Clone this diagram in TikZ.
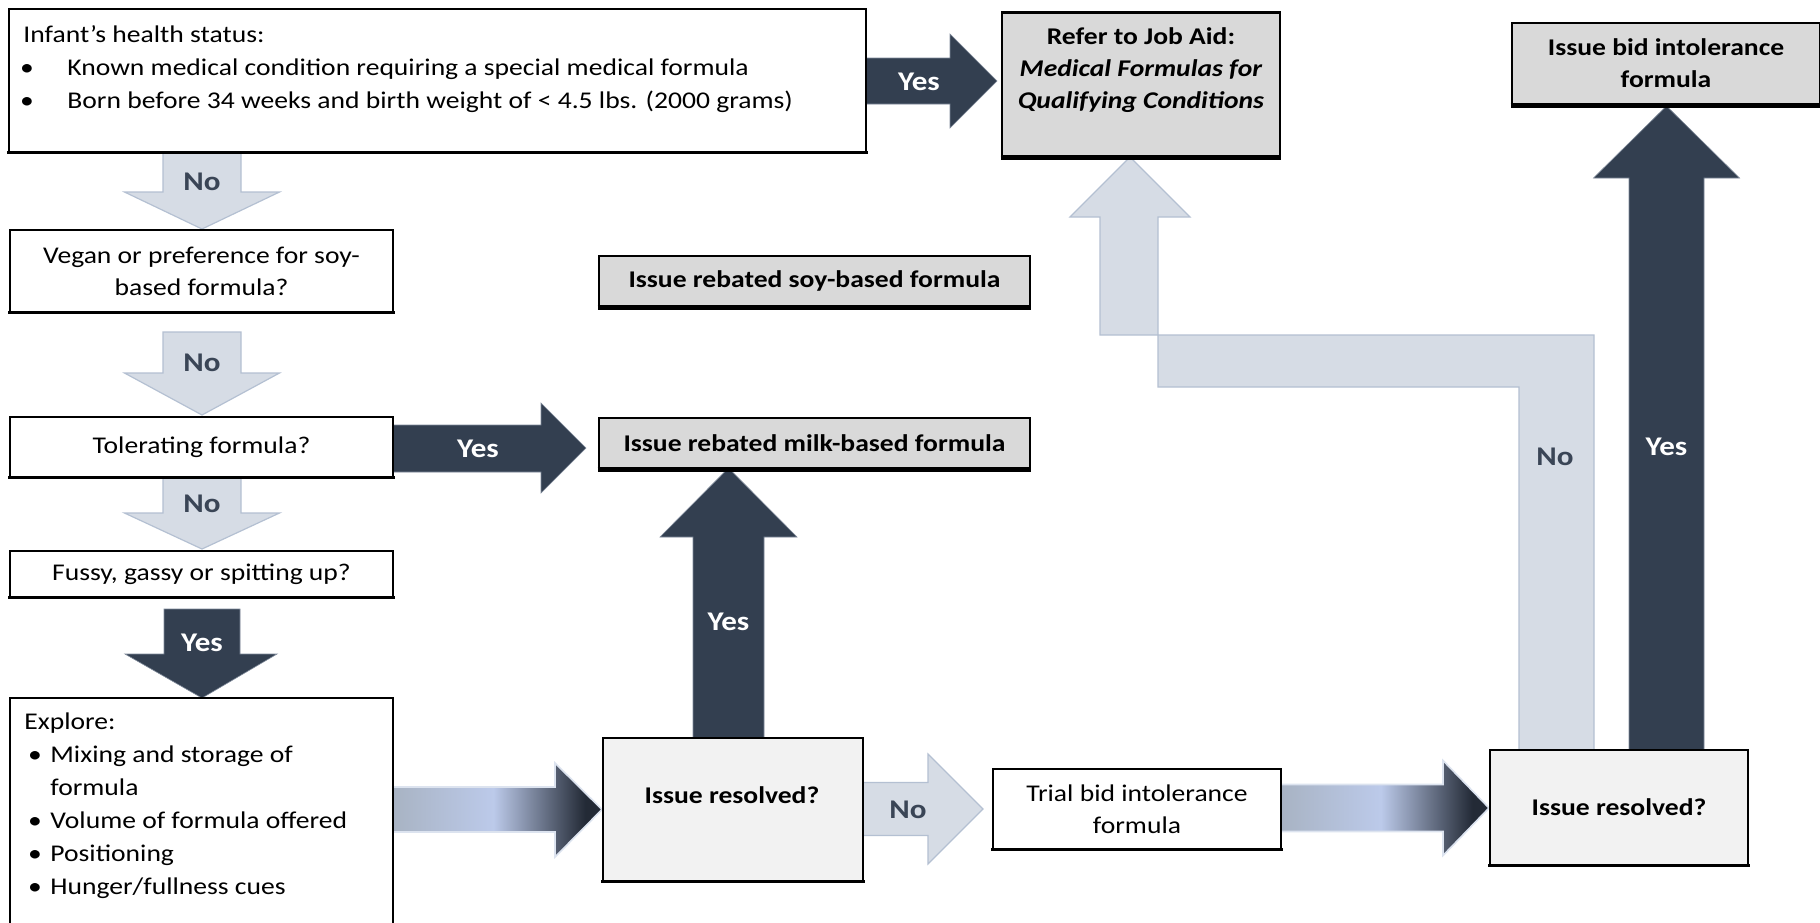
\documentclass[tikz,border=0pt]{standalone}
\usepackage{fontspec}
\setmainfont[FakeStretch=1.15]{Carlito}
\usetikzlibrary{calc}
\definecolor{darkarrow}{HTML}{333F50}
\definecolor{darkedge}{HTML}{7F8A9A}
\definecolor{lightarrow}{HTML}{D6DCE5}
\definecolor{lightedge}{HTML}{B4C0D2}
\definecolor{boxgray}{HTML}{D9D9D9}
\definecolor{resgray}{HTML}{F2F2F2}
\definecolor{labeldark}{HTML}{3A4556}
\definecolor{gA}{HTML}{A8B3C3}
\definecolor{gB}{HTML}{BCCAEA}
\definecolor{gC}{HTML}{232A36}
\definecolor{gedge}{HTML}{DCE3EF}
\pgfdeclarehorizontalshading{gradarrow}{100bp}{color(0bp)=(gA); color(25bp)=(gA); color(49bp)=(gB); color(71bp)=(gC); color(100bp)=(gC)}
\pgfdeclarelayer{bg}
\pgfsetlayers{bg,main}
\begin{document}
\begin{tikzpicture}[x=0.5pt,y=-0.5pt,
  txt/.style={font=\fontsize{12}{16}\selectfont, inner sep=0pt},
  btxt/.style={font=\fontsize{12}{16}\selectfont\bfseries, inner sep=0pt},
  lbl/.style={font=\fontsize{13.5}{15}\selectfont\bfseries, inner sep=0pt},
  wbox/.style={draw=black, line width=0.6pt, fill=white, inner sep=0pt},
  gbox/.style={draw=black, line width=1.4pt, fill=boxgray, inner sep=0pt},
  rbox/.style={draw=black, line width=0.6pt, fill=resgray, inner sep=0pt},
  shadowline/.style={line width=1.3pt, line cap=rect},
  darkarr/.style={fill=darkarrow, draw=darkedge, line width=0.3pt},
  lightarr/.style={fill=lightarrow, draw=lightedge, line width=0.6pt},
  gradarr/.style={shading=gradarrow, draw=gedge, line width=0.8pt}
]
\useasboundingbox (0,0) rectangle (1820,922);
\clip (0,0) rectangle (1820,922);

% ---------- boxes ----------
\node[wbox, minimum width=428.5pt, minimum height=71.5pt] (b1) at (437.5,80.5) {};
\node[txt, anchor=base west] (b1t) at (23,42) {Infant’s health status:};
\node[txt, anchor=base] (b1d1) at (27,75) {•};
\node[txt, anchor=base west] (b1l1) at (67,75) {Known medical condition requiring a special medical formula};
\node[txt, anchor=base] (b1d2) at (27,108) {•};
\node[txt, anchor=base west] (b1l2) at (67,108) {Born before 34 weeks and birth weight of < 4.5 lbs. (2000 grams)};

\node[wbox, txt, align=center, minimum width=191.5pt, minimum height=41pt] (vegan) at (201.5,271) {Vegan or preference for soy-\\based formula?};
\node[wbox, txt, minimum width=191.5pt, minimum height=30pt] (toler) at (201.5,447) {Tolerating formula?};
\node[wbox, txt, minimum width=191.5pt, minimum height=23pt] (fussy) at (201.5,574) {Fussy, gassy or spitting up?};

\node[wbox, minimum width=191.5pt, minimum height=118.5pt] (explore) at (201.5,816.5) {};
\node[txt, anchor=base west] (ex0) at (24,729) {Explore:};
\node[txt, anchor=base] (exd1) at (35,762) {•};
\node[txt, anchor=base west] (ex1) at (50,762) {Mixing and storage of};
\node[txt, anchor=base west] (ex1b) at (50,795) {formula};
\node[txt, anchor=base] (exd2) at (35,828) {•};
\node[txt, anchor=base west] (ex2) at (50,828) {Volume of formula offered};
\node[txt, anchor=base] (exd3) at (35,861) {•};
\node[txt, anchor=base west] (ex3) at (50,861) {Positioning};
\node[txt, anchor=base] (exd4) at (35,894) {•};
\node[txt, anchor=base west] (ex4) at (50,894) {Hunger/fullness cues};

\node[gbox, minimum width=139pt, minimum height=72pt] (refer) at (1141,84.5) {};
\node[btxt, align=center] (refert) at (1141,70.5) {Refer to Job Aid:\\\textit{Medical Formulas for}\\\textit{Qualifying Conditions}};

\node[gbox, btxt, align=center, minimum width=154pt, minimum height=40.5pt] (bid) at (1666,63.5) {Issue bid intolerance\\formula};
\node[gbox, btxt, minimum width=215.5pt, minimum height=25pt] (soy) at (814.5,281) {Issue rebated soy-based formula};
\node[gbox, btxt, minimum width=215.5pt, minimum height=25pt] (milk) at (814.5,443) {Issue rebated milk-based formula};

\node[rbox, minimum width=130pt, minimum height=71.5pt] (res1) at (733,809.5) {};
\node[btxt] (res1t) at (732,795) {Issue resolved?};
\node[wbox, txt, align=center, minimum width=144pt, minimum height=40pt] (trial) at (1137,809) {Trial bid intolerance\\formula};
\node[rbox, btxt, minimum width=129pt, minimum height=57.5pt] (res2) at (1619,807.5) {Issue resolved?};

% bottom shadows
\foreach \n in {b1,vegan,toler,fussy,trial,res1,res2}
  \draw[shadowline] (\n.south west) -- (\n.south east);
\foreach \n in {refer,bid,soy,milk}
  \draw[line width=2.2pt] (\n.south west) -- (\n.south east);

% ---------- block arrows ----------
\begin{pgfonlayer}{bg}
\fill[white] (0,0) rectangle (1820,922);
% No (b1 -> vegan)
\draw[lightarr] (163,150) -- (241,150) -- (241,192) -- (279.5,192) -- (202,229) -- (124.5,192) -- (163,192) -- cycle;
\node[lbl, text=labeldark] (n1) at (202,182) {No};
% No (vegan -> toler)
\draw[lightarr] (163,332) -- (241,332) -- (241,373) -- (279.5,373) -- (202,415) -- (124.5,373) -- (163,373) -- cycle;
\node[lbl, text=labeldark] (n2) at (202,363) {No};
% No (toler -> fussy)
\draw[lightarr] (163,477) -- (241,477) -- (241,513) -- (279.5,513) -- (202,549) -- (124.5,513) -- (163,513) -- cycle;
\node[lbl, text=labeldark] (n3) at (202,504) {No};
% Yes (fussy -> explore)
\draw[darkarr] (164,609) -- (240,609) -- (240,654) -- (277,654) -- (202,698) -- (125,654) -- (164,654) -- cycle;
\node[lbl, text=white] (y4) at (202,643) {Yes};
% Yes (toler -> milk)
\draw[darkarr] (393,425) -- (541,425) -- (541,403) -- (586,448) -- (541,493) -- (541,472) -- (393,472) -- cycle;
\node[lbl, text=white] (y5) at (478,449) {Yes};
% Yes (b1 -> refer)
\draw[darkarr] (866,58) -- (950,58) -- (950,34) -- (997,81) -- (950,128) -- (950,104) -- (866,104) -- cycle;
\node[lbl, text=white] (y6) at (919,82) {Yes};
% gradient (explore -> res1)
\path[gradarr] (393,787) -- (555,787) -- (555,763) -- (602,809.5) -- (555,857) -- (555,832) -- (393,832) -- cycle;
% Yes (res1 -> milk)
\draw[darkarr] (693,740) -- (693,537) -- (660,537) -- (728.5,468) -- (797,537) -- (764,537) -- (764,740) -- cycle;
\node[lbl, text=white] (y8) at (728.5,622) {Yes};
% No (res1 -> trial)
\draw[lightarr] (863,782.5) -- (928,782.5) -- (928,754) -- (983,809) -- (928,864) -- (928,835.5) -- (863,835.5) -- cycle;
\node[lbl, text=labeldark] (n9) at (908,810) {No};
% gradient (trial -> res2)
\path[gradarr] (1281,784.5) -- (1443,784.5) -- (1443,760.5) -- (1489,808) -- (1443,855.5) -- (1443,831.5) -- (1281,831.5) -- cycle;
% No (res2 -> refer), bent arrow
\draw[lightarr] (1519,752) -- (1519,387) -- (1158,387) -- (1158,217) -- (1190,217) -- (1130,157) -- (1070,217) -- (1100,217) -- (1100,335) -- (1594,335) -- (1594,752) -- cycle;
\node[lbl, text=labeldark] (n11) at (1555,457) {No};
% Yes (res2 -> bid)
\draw[darkarr] (1629,752) -- (1629,178) -- (1593.5,178) -- (1666.5,106) -- (1739.5,178) -- (1704,178) -- (1704,752) -- cycle;
\node[lbl, text=white] (y12) at (1666.5,447) {Yes};
\end{pgfonlayer}
\end{tikzpicture}
\end{document}
